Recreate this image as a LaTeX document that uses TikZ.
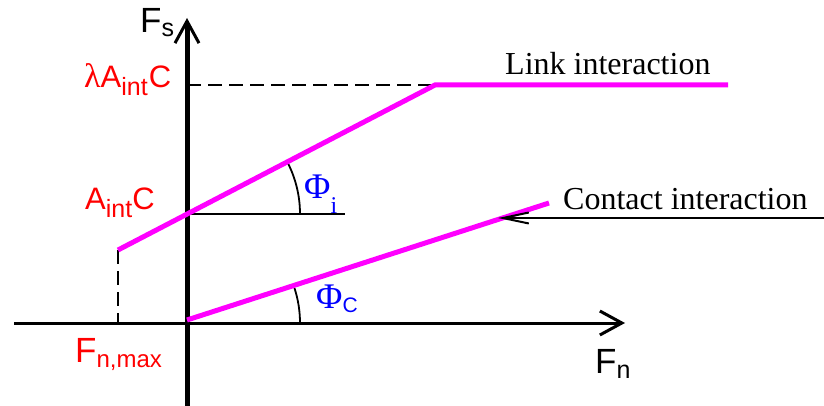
\documentclass[tikz,border=0pt]{standalone}
\usepackage{fontspec}
\setmainfont{Liberation Serif}
\newfontfamily\arialf{Liberation Sans}
\newfontfamily\serifl{Liberation Serif}
\usetikzlibrary{arrows.meta}
\definecolor{mag}{RGB}{255,0,255}
\definecolor{lblred}{RGB}{255,0,0}
\definecolor{phiblue}{RGB}{0,0,255}
\newcommand\lsub[3]{\raisebox{-#1pt}{\fontsize{#2}{#2}\selectfont #3}}
\begin{document}
\begin{tikzpicture}[x={(1pt,0pt)}, y={(0pt,-1pt)},
  redlbl/.style={anchor=base west, inner sep=0pt, text=lblred, font=\arialf\fontsize{31}{31}\selectfont},
  flbl/.style={anchor=base west, inner sep=0pt, text=lblred, font=\arialf\fontsize{35}{35}\selectfont},
  axislbl/.style={anchor=base west, inner sep=0pt, text=black, font=\arialf\fontsize{35}{35}\selectfont},
  philbl/.style={anchor=base west, inner sep=0pt, text=phiblue, font=\fontsize{36}{36}\selectfont},
  txtlbl/.style={anchor=base west, inner sep=0pt, text=black, font=\fontsize{32}{32}\selectfont},
  magline/.style={draw=mag, line width=5pt},
  thin/.style={draw=black, line width=2pt},
  dashline/.style={draw=black, line width=2pt, dash pattern=on 14pt off 7pt},
  barb/.style={-{Straight Barb[length=22pt,width=24pt,line width=3pt]}}
]
\useasboundingbox (0,0) rectangle (824,406);
% coordinates
\coordinate (vb) at (187,406);
\coordinate (vt) at (187,18);
\coordinate (hl) at (14,323);
\coordinate (hr) at (625,323);
\coordinate (o) at (187,323);
\coordinate (ls) at (118,250);
\coordinate (lk) at (435,85);
\coordinate (le) at (728,85);
\coordinate (ai) at (187,214);
\coordinate (aie) at (345,214);
\coordinate (ly) at (187,85);
\coordinate (lx) at (118,323);
\coordinate (cs) at (187,320);
\coordinate (ce) at (549,203);
\coordinate (ar) at (824,218);
\coordinate (at) at (498,218);
\coordinate (arci) at (300,214);
\coordinate (arcc) at (300,323);
% dashed guides
\draw[dashline] (ly) -- (lk);
\draw[dashline] (ls) -- (lx);
% thin reference line
\draw[thin] (ai) -- (aie);
% axes
\draw[line width=3pt, barb] (hl) -- (hr);
\draw[line width=5pt, barb] (vb) -- (vt);
% arcs
\draw[line width=1.8pt] (arci) arc[start angle=0, end angle=27, radius=113pt];
\draw[line width=1.8pt] (arcc) arc[start angle=0, end angle=18, radius=113pt];
% magenta lines
\draw[magline] (ls) -- (lk) -- (le);
\draw[magline] (cs) -- (ce);
% contact arrow
\draw[line width=2pt, -{Straight Barb[length=26pt,width=11pt,line width=2pt]}] (ar) -- (at);
% labels
\node[axislbl] (fs) at (140,33) {F\lsub{4}{25}{s}};
\node[axislbl] (fn) at (595,373) {F\lsub{5}{25}{n}};
\node[redlbl] (lac) at (84,88) {{\serifl\fontsize{34}{34}\selectfont λ}A\lsub{8}{25}{int}\kern1pt C};
\node[redlbl] (ac) at (85,210) {A\lsub{8}{25}{int}C};
\node[flbl] (fmax) at (75,362) {F\lsub{5}{24}{n,max}};
\node[philbl] (phii) at (304,199) {Φ\lsub{14}{24}{i}};
\node[philbl] (phic) at (316,308) {Φ\raisebox{-4pt}{\arialf\fontsize{21}{21}\selectfont C}};
\node[txtlbl] (link) at (505,75) {Link interaction};
\node[txtlbl] (cont) at (563,210) {Contact interaction};
\end{tikzpicture}
\end{document}
